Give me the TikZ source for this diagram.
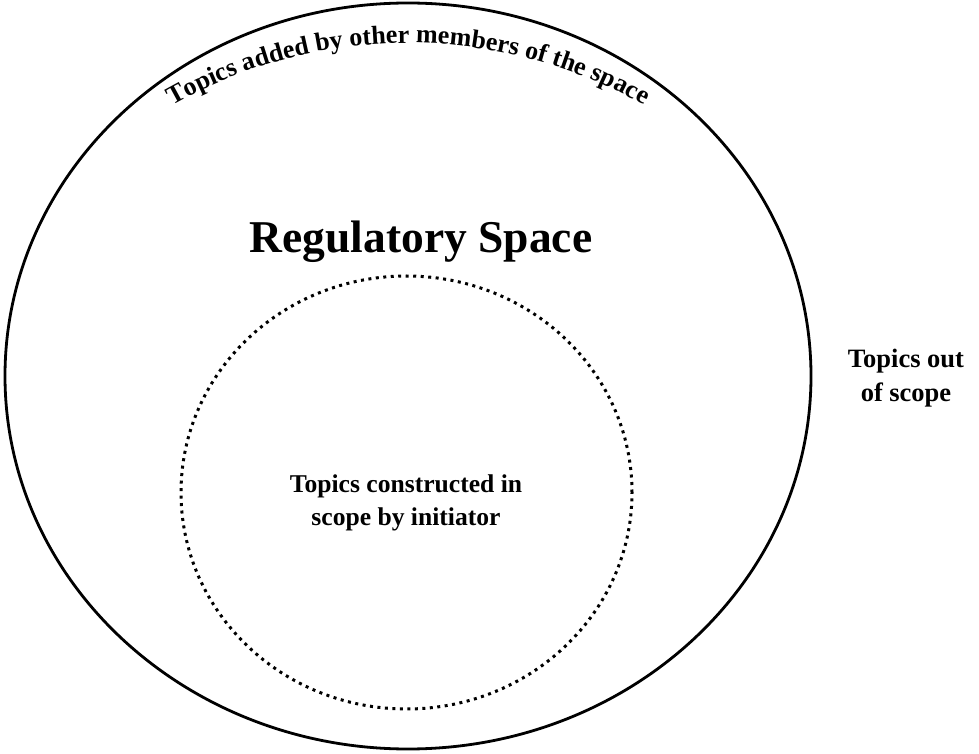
\documentclass[tikz,border=0pt]{standalone}
\usepackage{fontspec}
\setmainfont{Liberation Serif}
\usetikzlibrary{decorations.text}
\begin{document}
\begin{tikzpicture}[x=1pt,y=1pt,
  outerring/.style={draw=black,line width=2.8pt},
  innerring/.style={draw=black,line width=3pt,dash pattern=on 3pt off 4.5pt},
  label/.style={inner sep=0pt,align=center,text=black,font=\bfseries}]
\useasboundingbox (0,0) rectangle (979,753);
\fill[white] (0,0) rectangle (979,753);

% outer boundary of the regulatory space
\draw[outerring] (408,377) ellipse [x radius=403, y radius=373];
% dotted boundary of the initiator's scope
\draw[innerring] (406.5,260.5) ellipse [x radius=225.5, y radius=216.5];

% heading
\node[label,font=\bfseries\fontsize{45.5}{50}\selectfont,anchor=base] (title) at (421,500) {Regulatory Space};

% inner topics
\node[label,font=\bfseries\fontsize{25.6}{33}\selectfont] (inner) at (406,250)
  {Topics constructed in\\scope by initiator};

% topics outside the space
\node[label,font=\bfseries\fontsize{26.5}{34}\selectfont] (outside) at (906,375)
  {Topics out\\of scope};

% arched caption along the top of the outer boundary
\path[decorate,decoration={text along path,text align=center,
  text={|\bfseries\fontsize{26}{30}\selectfont|Topics added by other members of the space}}]
  (408,233) ++(121:477) arc[start angle=121,end angle=59,radius=477];
\end{tikzpicture}
\end{document}
